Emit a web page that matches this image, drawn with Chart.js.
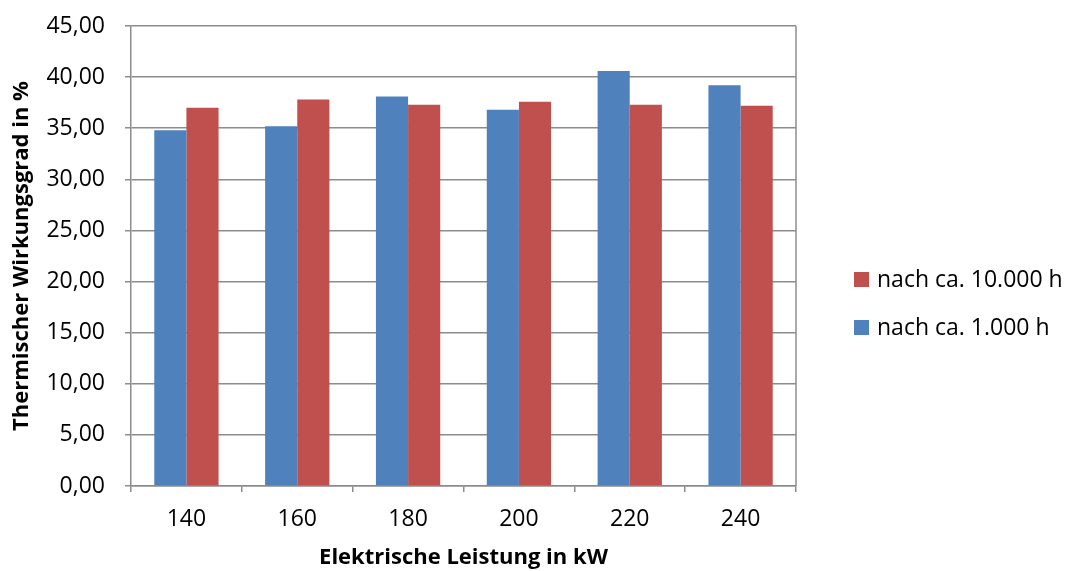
<!DOCTYPE html>
<html>
<head>
<meta charset="utf-8">
<script src="https://cdn.jsdelivr.net/npm/chart.js@4/dist/chart.umd.min.js"></script>
<style>
  html, body { margin: 0; padding: 0; background: #fff; }
  #wrap { width: 1067px; height: 571px; }
</style>
</head>
<body>
<div id="wrap"><canvas id="chart" width="1067" height="571"></canvas></div>
<script>
// Daten
const categories = ['140', '160', '180', '200', '220', '240'];
const after1000h = [34.8, 35.2, 38.1, 36.8, 40.6, 39.2];
const after10000h = [37.0, 37.8, 37.3, 37.6, 37.3, 37.2];
const seriesNames = ['nach ca. 1.000 h', 'nach ca. 10.000 h'];
const yMin = 0, yMax = 45, yStep = 5;

const blue = '#4F81BD';
const red = '#C0504D';
const gridGrey = '#8c8c8c';
const fontFamily = '"Open Sans", "Noto Sans", sans-serif';

// Legende rechts (umgekehrte Reihenfolge wie in Excel)
const sideLegend = {
  id: 'sideLegend',
  afterDraw(chart) {
    const ctx = chart.ctx;
    const sets = chart.data.datasets.slice().reverse();
    ctx.save();
    ctx.font = '23px ' + fontFamily;
    ctx.textBaseline = 'middle';
    sets.forEach((ds, i) => {
      const y = 279 + i * 48;
      ctx.fillStyle = ds.backgroundColor;
      ctx.fillRect(854, y - 7, 15, 15);
      ctx.fillStyle = '#000';
      ctx.fillText(ds.label, 877, y + 1);
    });
    // rechter Rahmen der Zeichenfläche
    const a = chart.chartArea;
    ctx.strokeStyle = gridGrey;
    ctx.lineWidth = 1.5;
    ctx.beginPath();
    ctx.moveTo(a.right, a.top);
    ctx.lineTo(a.right, a.bottom);
    ctx.stroke();
    ctx.restore();
  }
};

new Chart(document.getElementById('chart'), {
  type: 'bar',
  data: {
    labels: categories,
    datasets: [
      { label: seriesNames[0], data: after1000h, backgroundColor: blue },
      { label: seriesNames[1], data: after10000h, backgroundColor: red }
    ]
  },
  options: {
    responsive: false,
    animation: false,
    devicePixelRatio: 1,
    layout: { autoPadding: false, padding: { top: 26, right: 271, left: 0, bottom: 0 } },
    datasets: { bar: { categoryPercentage: 0.58, barPercentage: 1.0 } },
    plugins: {
      legend: { display: false },
      tooltip: { enabled: false }
    },
    scales: {
      x: {
        offset: true,
        grid: { offset: true, drawOnChartArea: false, drawTicks: true, tickLength: 6, color: gridGrey, lineWidth: 1.5 },
        border: { color: gridGrey, width: 1.5 },
        ticks: { color: '#000', padding: 14, font: { family: fontFamily, size: 23 } },
        title: { display: true, text: 'Elektrische Leistung in kW', color: '#000', padding: { top: 0, bottom: 0 }, font: { family: fontFamily, size: 22, weight: 'bold' } },
        afterFit(scale) { scale.height = 85; scale.paddingLeft = 0; scale.paddingRight = 0; }
      },
      y: {
        min: yMin,
        max: yMax,
        grid: { color: gridGrey, lineWidth: 1.5, tickLength: 6 },
        border: { color: gridGrey, width: 1.5 },
        ticks: {
          stepSize: yStep,
          color: '#000',
          padding: 20,
          font: { family: fontFamily, size: 23 },
          callback: v => v.toFixed(2).replace('.', ',')
        },
        title: { display: true, text: 'Thermischer Wirkungsgrad in %', color: '#000', padding: { top: 9, bottom: 0 }, font: { family: fontFamily, size: 22, weight: 'bold' } },
        afterFit(scale) { scale.width = 131; scale.paddingTop = 0; scale.paddingBottom = 0; }
      }
    }
  },
  plugins: [sideLegend]
});
</script>
</body>
</html>
